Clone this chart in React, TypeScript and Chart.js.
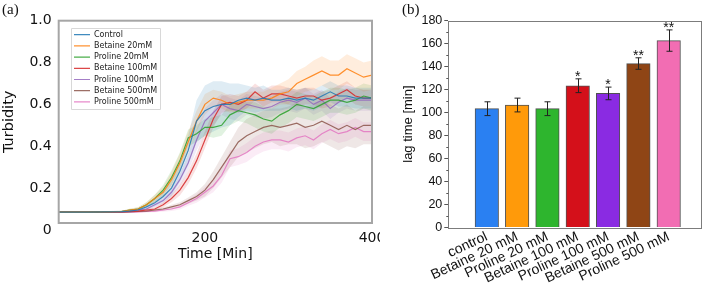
import React, { useEffect, useRef } from 'react';
import { Chart, registerables } from 'chart.js';
Chart.register(...registerables);

// ---------- Panel (a) data ----------
const times = [25, 60, 100, 110, 120, 130, 140, 150, 160, 170, 180, 190, 200, 210, 220, 230, 240, 250, 260, 270, 280, 290, 300, 310, 320, 330, 340, 350, 360, 370, 380, 390, 400];

const control = [0.085, 0.085, 0.087, 0.09, 0.095, 0.11, 0.13, 0.16, 0.2, 0.28, 0.38, 0.52, 0.57, 0.59, 0.6, 0.6, 0.62, 0.63, 0.62, 0.63, 0.62, 0.62, 0.63, 0.62, 0.63, 0.62, 0.64, 0.66, 0.64, 0.64, 0.63, 0.63, 0.63];
const betaine20 = [0.085, 0.085, 0.088, 0.095, 0.1, 0.12, 0.15, 0.18, 0.24, 0.32, 0.42, 0.52, 0.6, 0.63, 0.62, 0.6, 0.61, 0.62, 0.62, 0.62, 0.63, 0.65, 0.66, 0.7, 0.72, 0.74, 0.76, 0.74, 0.74, 0.77, 0.75, 0.73, 0.74];
const proline20 = [0.085, 0.085, 0.088, 0.095, 0.1, 0.12, 0.15, 0.19, 0.25, 0.33, 0.44, 0.46, 0.49, 0.49, 0.5, 0.55, 0.57, 0.56, 0.55, 0.53, 0.52, 0.55, 0.57, 0.6, 0.59, 0.58, 0.6, 0.62, 0.62, 0.61, 0.62, 0.64, 0.63];
const betaine100 = [0.085, 0.085, 0.086, 0.088, 0.09, 0.095, 0.1, 0.12, 0.15, 0.19, 0.25, 0.33, 0.43, 0.53, 0.6, 0.61, 0.6, 0.62, 0.66, 0.63, 0.65, 0.65, 0.64, 0.63, 0.64, 0.64, 0.62, 0.63, 0.65, 0.67, 0.64, 0.63, 0.63];
const proline100 = [0.085, 0.085, 0.087, 0.09, 0.095, 0.1, 0.12, 0.14, 0.18, 0.24, 0.32, 0.43, 0.52, 0.56, 0.6, 0.58, 0.57, 0.6, 0.59, 0.58, 0.59, 0.61, 0.62, 0.61, 0.63, 0.6, 0.62, 0.58, 0.61, 0.63, 0.62, 0.62, 0.62];
const betaine500 = [0.085, 0.085, 0.085, 0.086, 0.088, 0.09, 0.095, 0.1, 0.11, 0.12, 0.14, 0.16, 0.19, 0.24, 0.3, 0.36, 0.42, 0.45, 0.47, 0.49, 0.5, 0.49, 0.5, 0.51, 0.49, 0.5, 0.52, 0.5, 0.48, 0.5, 0.48, 0.5, 0.5];
const proline500 = [0.085, 0.085, 0.085, 0.085, 0.086, 0.088, 0.09, 0.095, 0.1, 0.11, 0.13, 0.15, 0.18, 0.21, 0.26, 0.34, 0.35, 0.37, 0.4, 0.42, 0.43, 0.43, 0.42, 0.44, 0.45, 0.43, 0.46, 0.48, 0.46, 0.47, 0.49, 0.47, 0.47];

const controlSd = [0.003, 0.003, 0.004, 0.006, 0.008, 0.012, 0.018, 0.025, 0.035, 0.05, 0.07, 0.1, 0.12, 0.12, 0.11, 0.1, 0.08, 0.06, 0.06, 0.06, 0.05, 0.05, 0.05, 0.05, 0.05, 0.05, 0.05, 0.05, 0.05, 0.05, 0.05, 0.05, 0.05];
const betaine20Sd = [0.003, 0.003, 0.004, 0.006, 0.008, 0.012, 0.018, 0.025, 0.035, 0.045, 0.05, 0.05, 0.05, 0.04, 0.04, 0.04, 0.04, 0.04, 0.04, 0.04, 0.05, 0.05, 0.06, 0.06, 0.06, 0.07, 0.07, 0.07, 0.07, 0.07, 0.07, 0.07, 0.07];
const proline20Sd = [0.003, 0.003, 0.004, 0.006, 0.008, 0.012, 0.018, 0.025, 0.035, 0.04, 0.04, 0.04, 0.04, 0.05, 0.05, 0.05, 0.05, 0.05, 0.06, 0.06, 0.06, 0.06, 0.06, 0.06, 0.06, 0.06, 0.06, 0.06, 0.06, 0.06, 0.06, 0.06, 0.06];
const betaine100Sd = [0.003, 0.003, 0.003, 0.004, 0.005, 0.006, 0.008, 0.012, 0.018, 0.025, 0.03, 0.035, 0.04, 0.04, 0.04, 0.04, 0.04, 0.04, 0.04, 0.04, 0.04, 0.04, 0.04, 0.04, 0.04, 0.04, 0.04, 0.04, 0.04, 0.04, 0.04, 0.04, 0.04];
const proline100Sd = [0.003, 0.003, 0.003, 0.004, 0.006, 0.008, 0.01, 0.015, 0.02, 0.03, 0.04, 0.05, 0.06, 0.06, 0.05, 0.05, 0.05, 0.05, 0.05, 0.05, 0.05, 0.05, 0.05, 0.05, 0.05, 0.05, 0.05, 0.05, 0.05, 0.05, 0.05, 0.05, 0.05];
const betaine500Sd = [0.003, 0.003, 0.003, 0.003, 0.004, 0.005, 0.006, 0.008, 0.01, 0.012, 0.015, 0.02, 0.03, 0.04, 0.05, 0.06, 0.07, 0.08, 0.08, 0.08, 0.08, 0.09, 0.09, 0.1, 0.1, 0.1, 0.1, 0.1, 0.1, 0.1, 0.09, 0.09, 0.09];
const proline500Sd = [0.003, 0.003, 0.003, 0.003, 0.004, 0.005, 0.006, 0.008, 0.01, 0.012, 0.015, 0.02, 0.025, 0.03, 0.035, 0.04, 0.04, 0.045, 0.045, 0.045, 0.045, 0.045, 0.045, 0.045, 0.045, 0.045, 0.045, 0.045, 0.045, 0.045, 0.045, 0.045, 0.045];

const seriesNames = ['Control', 'Betaine 20mM', 'Proline 20mM', 'Betaine 100mM', 'Proline 100mM', 'Betaine 500mM', 'Proline 500mM'];
const turbidityTicks = [0, 0.2, 0.4, 0.6, 0.8, 1.0];
const timeTicks = [200, 400];

// ---------- Panel (b) data ----------
const barLabels = ['control', 'Betaine 20 mM', 'Proline 20 mM', 'Betaine 100 mM', 'Proline 100 mM', 'Betaine 500 mM', 'Proline 500 mM'];
const lagTimes = [103.4, 106.6, 103.4, 123.4, 116.7, 142.7, 162.7];
const lagErrors = [6, 6, 6, 6, 5.5, 5, 9.3];
const significance = ['', '', '', '*', '*', '**', '**'];

// ---------- styles ----------
const lineRgb = ['31,119,180', '255,127,14', '44,160,44', '214,39,40', '148,103,189', '140,86,75', '227,119,194'];
const barColors = ['#2a80f2', '#ff9a0a', '#2eb52e', '#d4101a', '#8a2be2', '#8f4515', '#f26db3'];

const W = 709;
const H = 293;

function TurbidityChart() {
  const ref = useRef<HTMLCanvasElement>(null);
  useEffect(() => {
    const series = [control, betaine20, proline20, betaine100, proline100, betaine500, proline500];
    const sds = [controlSd, betaine20Sd, proline20Sd, betaine100Sd, proline100Sd, betaine500Sd, proline500Sd];
    const lineSets: any[] = series.map((vals, i) => ({
      label: seriesNames[i],
      data: times.map((t, j) => ({ x: t, y: vals[j] })),
      borderColor: `rgba(${lineRgb[i]},0.85)`,
      backgroundColor: `rgba(${lineRgb[i]},0.85)`,
      borderWidth: 1.2,
      pointRadius: 0,
      fill: false,
      tension: 0,
    }));
    const bandSets: any[] = [];
    series.forEach((vals, i) => {
      bandSets.push({
        label: '_upper' + i,
        data: times.map((t, j) => ({ x: t, y: vals[j] + sds[i][j] })),
        borderWidth: 0,
        pointRadius: 0,
        fill: '+1',
        backgroundColor: `rgba(${lineRgb[i]},0.14)`,
        borderColor: 'rgba(0,0,0,0)',
      });
      bandSets.push({
        label: '_lower' + i,
        data: times.map((t, j) => ({ x: t, y: vals[j] - sds[i][j] })),
        borderWidth: 0,
        pointRadius: 0,
        fill: false,
        borderColor: 'rgba(0,0,0,0)',
      });
    });

    const legendShift = {
      id: 'legendShift',
      afterLayout(chart: any) {
        const lg = chart.legend;
        if (!lg) return;
        const ca = chart.chartArea;
        const w = lg.right - lg.left;
        const h = lg.bottom - lg.top;
        lg.left = ca.left + 12.1;
        lg.top = ca.top + 6.8;
        lg.right = lg.left + w;
        lg.bottom = lg.top + h;
      },
    };
    const legendFrame = {
      id: 'legendFrame',
      beforeDraw(chart: any) {
        const lg = chart.legend;
        if (!lg || !lg.legendHitBoxes || !lg.legendHitBoxes.length) return;
        const hb = lg.legendHitBoxes;
        let l = Infinity, t = Infinity, r = -Infinity, b = -Infinity;
        hb.forEach((h: any) => {
          l = Math.min(l, h.left);
          t = Math.min(t, h.top);
          r = Math.max(r, h.left + h.width);
          b = Math.max(b, h.top + h.height);
        });
        const ctx = chart.ctx;
        ctx.save();
        ctx.fillStyle = '#ffffff';
        ctx.strokeStyle = '#d8d8d8';
        ctx.lineWidth = 1;
        ctx.beginPath();
        ctx.rect(Math.round(l - 3) + 0.5, Math.round(t - 2.4) + 0.5, Math.round(r - l + 5.6), Math.round(b - t + 5.7));
        ctx.fill();
        ctx.stroke();
        ctx.restore();
      },
    };
    const frame = {
      id: 'frameA',
      afterDraw(chart: any) {
        const { ctx, chartArea } = chart;
        ctx.save();
        ctx.strokeStyle = '#a6a6a6';
        ctx.lineWidth = 2;
        ctx.strokeRect(chartArea.left, chartArea.top, chartArea.right - chartArea.left, chartArea.bottom - chartArea.top);
        ctx.restore();
      },
    };

    const tickFont = { family: 'DejaVu Sans', size: 14 };
    const chart = new Chart(ref.current as HTMLCanvasElement, {
      type: 'line',
      data: { datasets: [...lineSets, ...bandSets] },
      options: {
        animation: false,
        responsive: false,
        maintainAspectRatio: false,
        layout: { padding: { top: 20.7, right: 8, left: 0, bottom: 0 } },
        plugins: {
          legend: {
            position: 'chartArea' as any,
            align: 'start',
            labels: {
              filter: (item: any) => item.datasetIndex < 7,
              usePointStyle: true,
              pointStyle: 'line',
              pointStyleWidth: 16,
              boxHeight: 8,
              padding: 3.2,
              color: '#222',
              font: { family: 'DejaVu Sans', size: 8 },
            },
          },
          tooltip: { enabled: false },
        },
        scales: {
          x: {
            type: 'linear',
            min: 25,
            max: 400,
            afterBuildTicks: (s: any) => {
              s.ticks = timeTicks.map((v) => ({ value: v }));
            },
            afterFit: (s: any) => {
              s.height = 70;
              s.paddingLeft = 0;
              s.paddingRight = 0;
            },
            ticks: { font: tickFont, color: '#111', padding: 7, autoSkip: false, maxRotation: 0, callback: (v: any) => String(v) },
            grid: { display: false, drawTicks: false },
            border: { display: false },
            title: { display: true, text: 'Time [Min]', color: '#111', font: { family: 'DejaVu Sans', size: 14 }, padding: { top: 0, bottom: 30 } },
          },
          y: {
            type: 'linear',
            min: 0.033,
            max: 1.0,
            afterBuildTicks: (s: any) => {
              s.ticks = turbidityTicks.map((v) => ({ value: v }));
            },
            afterFit: (s: any) => {
              s.width = 58.7;
              s.paddingTop = 0;
              s.paddingBottom = 0;
            },
            ticks: {
              font: tickFont,
              color: '#111',
              padding: 7,
              autoSkip: false,
              callback: (v: any) => (v === 0 ? '0' : Number(v).toFixed(1)),
            },
            grid: { display: false, drawTicks: false },
            border: { display: false },
            title: { display: true, text: 'Turbidity', color: '#111', font: { family: 'DejaVu Sans', size: 14.5 }, padding: { top: 1, bottom: 0 } },
          },
        },
      } as any,
      plugins: [legendShift, legendFrame, frame],
    });
    return () => chart.destroy();
  }, []);
  return <canvas ref={ref} width={380} height={H} style={{ position: 'absolute', left: 0, top: 0, width: 380, height: H }} />;
}

function LagTimeChart() {
  const ref = useRef<HTMLCanvasElement>(null);
  useEffect(() => {
    const errorBars = {
      id: 'errorBars',
      afterDatasetsDraw(chart: any) {
        const meta = chart.getDatasetMeta(0);
        const ys = chart.scales.y;
        const ctx = chart.ctx;
        ctx.save();
        ctx.strokeStyle = '#222';
        ctx.lineWidth = 1;
        meta.data.forEach((bar: any, i: number) => {
          const x = Math.round(bar.x) + 0.5;
          const top = ys.getPixelForValue(lagTimes[i] + lagErrors[i]);
          const bot = ys.getPixelForValue(lagTimes[i] - lagErrors[i]);
          ctx.beginPath();
          ctx.moveTo(x, top);
          ctx.lineTo(x, bot);
          ctx.moveTo(x - 3, top);
          ctx.lineTo(x + 3, top);
          ctx.moveTo(x - 3, bot);
          ctx.lineTo(x + 3, bot);
          ctx.stroke();
          if (significance[i]) {
            ctx.fillStyle = '#111';
            ctx.font = '14px "Liberation Sans", Arial, sans-serif';
            ctx.textAlign = 'center';
            ctx.textBaseline = 'alphabetic';
            ctx.fillText(significance[i], bar.x, top + 2);
          }
        });
        ctx.restore();
      },
    };
    const frame = {
      id: 'frameB',
      afterDraw(chart: any) {
        const { ctx, chartArea, scales } = chart;
        ctx.save();
        ctx.strokeStyle = '#7c7c7c';
        ctx.lineWidth = 1;
        ctx.strokeRect(Math.round(chartArea.left) + 0.5, Math.round(chartArea.top) + 0.5, Math.round(chartArea.right - chartArea.left), Math.round(chartArea.bottom - chartArea.top));
        // minor ticks
        ctx.strokeStyle = '#555';
        for (let v = 10; v < 180; v += 20) {
          const y = Math.round(scales.y.getPixelForValue(v)) + 0.5;
          ctx.beginPath();
          ctx.moveTo(chartArea.left - 2, y);
          ctx.lineTo(chartArea.left, y);
          ctx.stroke();
        }
        ctx.restore();
      },
    };
    const font = { family: 'Liberation Sans', size: 14 };
    const chart = new Chart(ref.current as HTMLCanvasElement, {
      type: 'bar',
      data: {
        datasets: [
          {
            label: 'lag time',
            data: lagTimes.map((v, i) => ({ x: i + 1, y: v })),
            backgroundColor: barColors,
            borderColor: 'rgba(50,50,50,0.85)',
            borderWidth: 1,
            barThickness: 23.5,
          },
        ],
      },
      options: {
        animation: false,
        responsive: false,
        maintainAspectRatio: false,
        layout: { padding: { top: 20.7, right: 8, left: 0, bottom: 0 } },
        plugins: { legend: { display: false }, tooltip: { enabled: false } },
        scales: {
          x: {
            type: 'linear',
            offset: false,
            min: -0.27,
            max: 8.065,
            afterBuildTicks: (s: any) => {
              s.ticks = barLabels.map((_, i) => ({ value: i + 1 }));
            },
            afterFit: (s: any) => {
              s.height = 65.5;
              s.paddingLeft = 0;
              s.paddingRight = 0;
            },
            ticks: {
              font,
              color: '#111',
              autoSkip: false,
              minRotation: 25,
              maxRotation: 25,
              padding: 1,
              callback: (v: any) => barLabels[Math.round(v) - 1] ?? '',
            },
            grid: { display: false, drawTicks: false },
            border: { display: false },
          },
          y: {
            type: 'linear',
            min: 0,
            max: 180,
            ticks: { stepSize: 20, font: { family: 'Liberation Sans', size: 12.5 }, color: '#111', padding: 2 },
            afterFit: (s: any) => {
              s.width = 68.3;
              s.paddingTop = 0;
              s.paddingBottom = 0;
            },
            grid: { drawOnChartArea: false, drawTicks: true, tickLength: 4, color: '#555' },
            border: { display: false },
            title: { display: true, text: 'lag time [min]', color: '#111', font: { family: 'Liberation Sans', size: 13 }, padding: { top: 21, bottom: 0 } },
          },
        },
      } as any,
      plugins: [errorBars, frame],
    });
    return () => chart.destroy();
  }, []);
  return <canvas ref={ref} width={329} height={H} style={{ position: 'absolute', left: 380, top: 0, width: 329, height: H }} />;
}

export default function App() {
  const labelStyle: React.CSSProperties = {
    position: 'absolute',
    fontFamily: '"Liberation Serif", "Times New Roman", serif',
    fontSize: 15,
    lineHeight: '17px',
    color: '#111',
  };
  return (
    <div style={{ position: 'absolute', left: 0, top: 0, width: W, height: H, background: '#fff', overflow: 'hidden' }}>
      <TurbidityChart />
      <LagTimeChart />
      <span style={{ ...labelStyle, left: 2, top: 1 }}>(a)</span>
      <span style={{ ...labelStyle, left: 402, top: 1 }}>(b)</span>
    </div>
  );
}
